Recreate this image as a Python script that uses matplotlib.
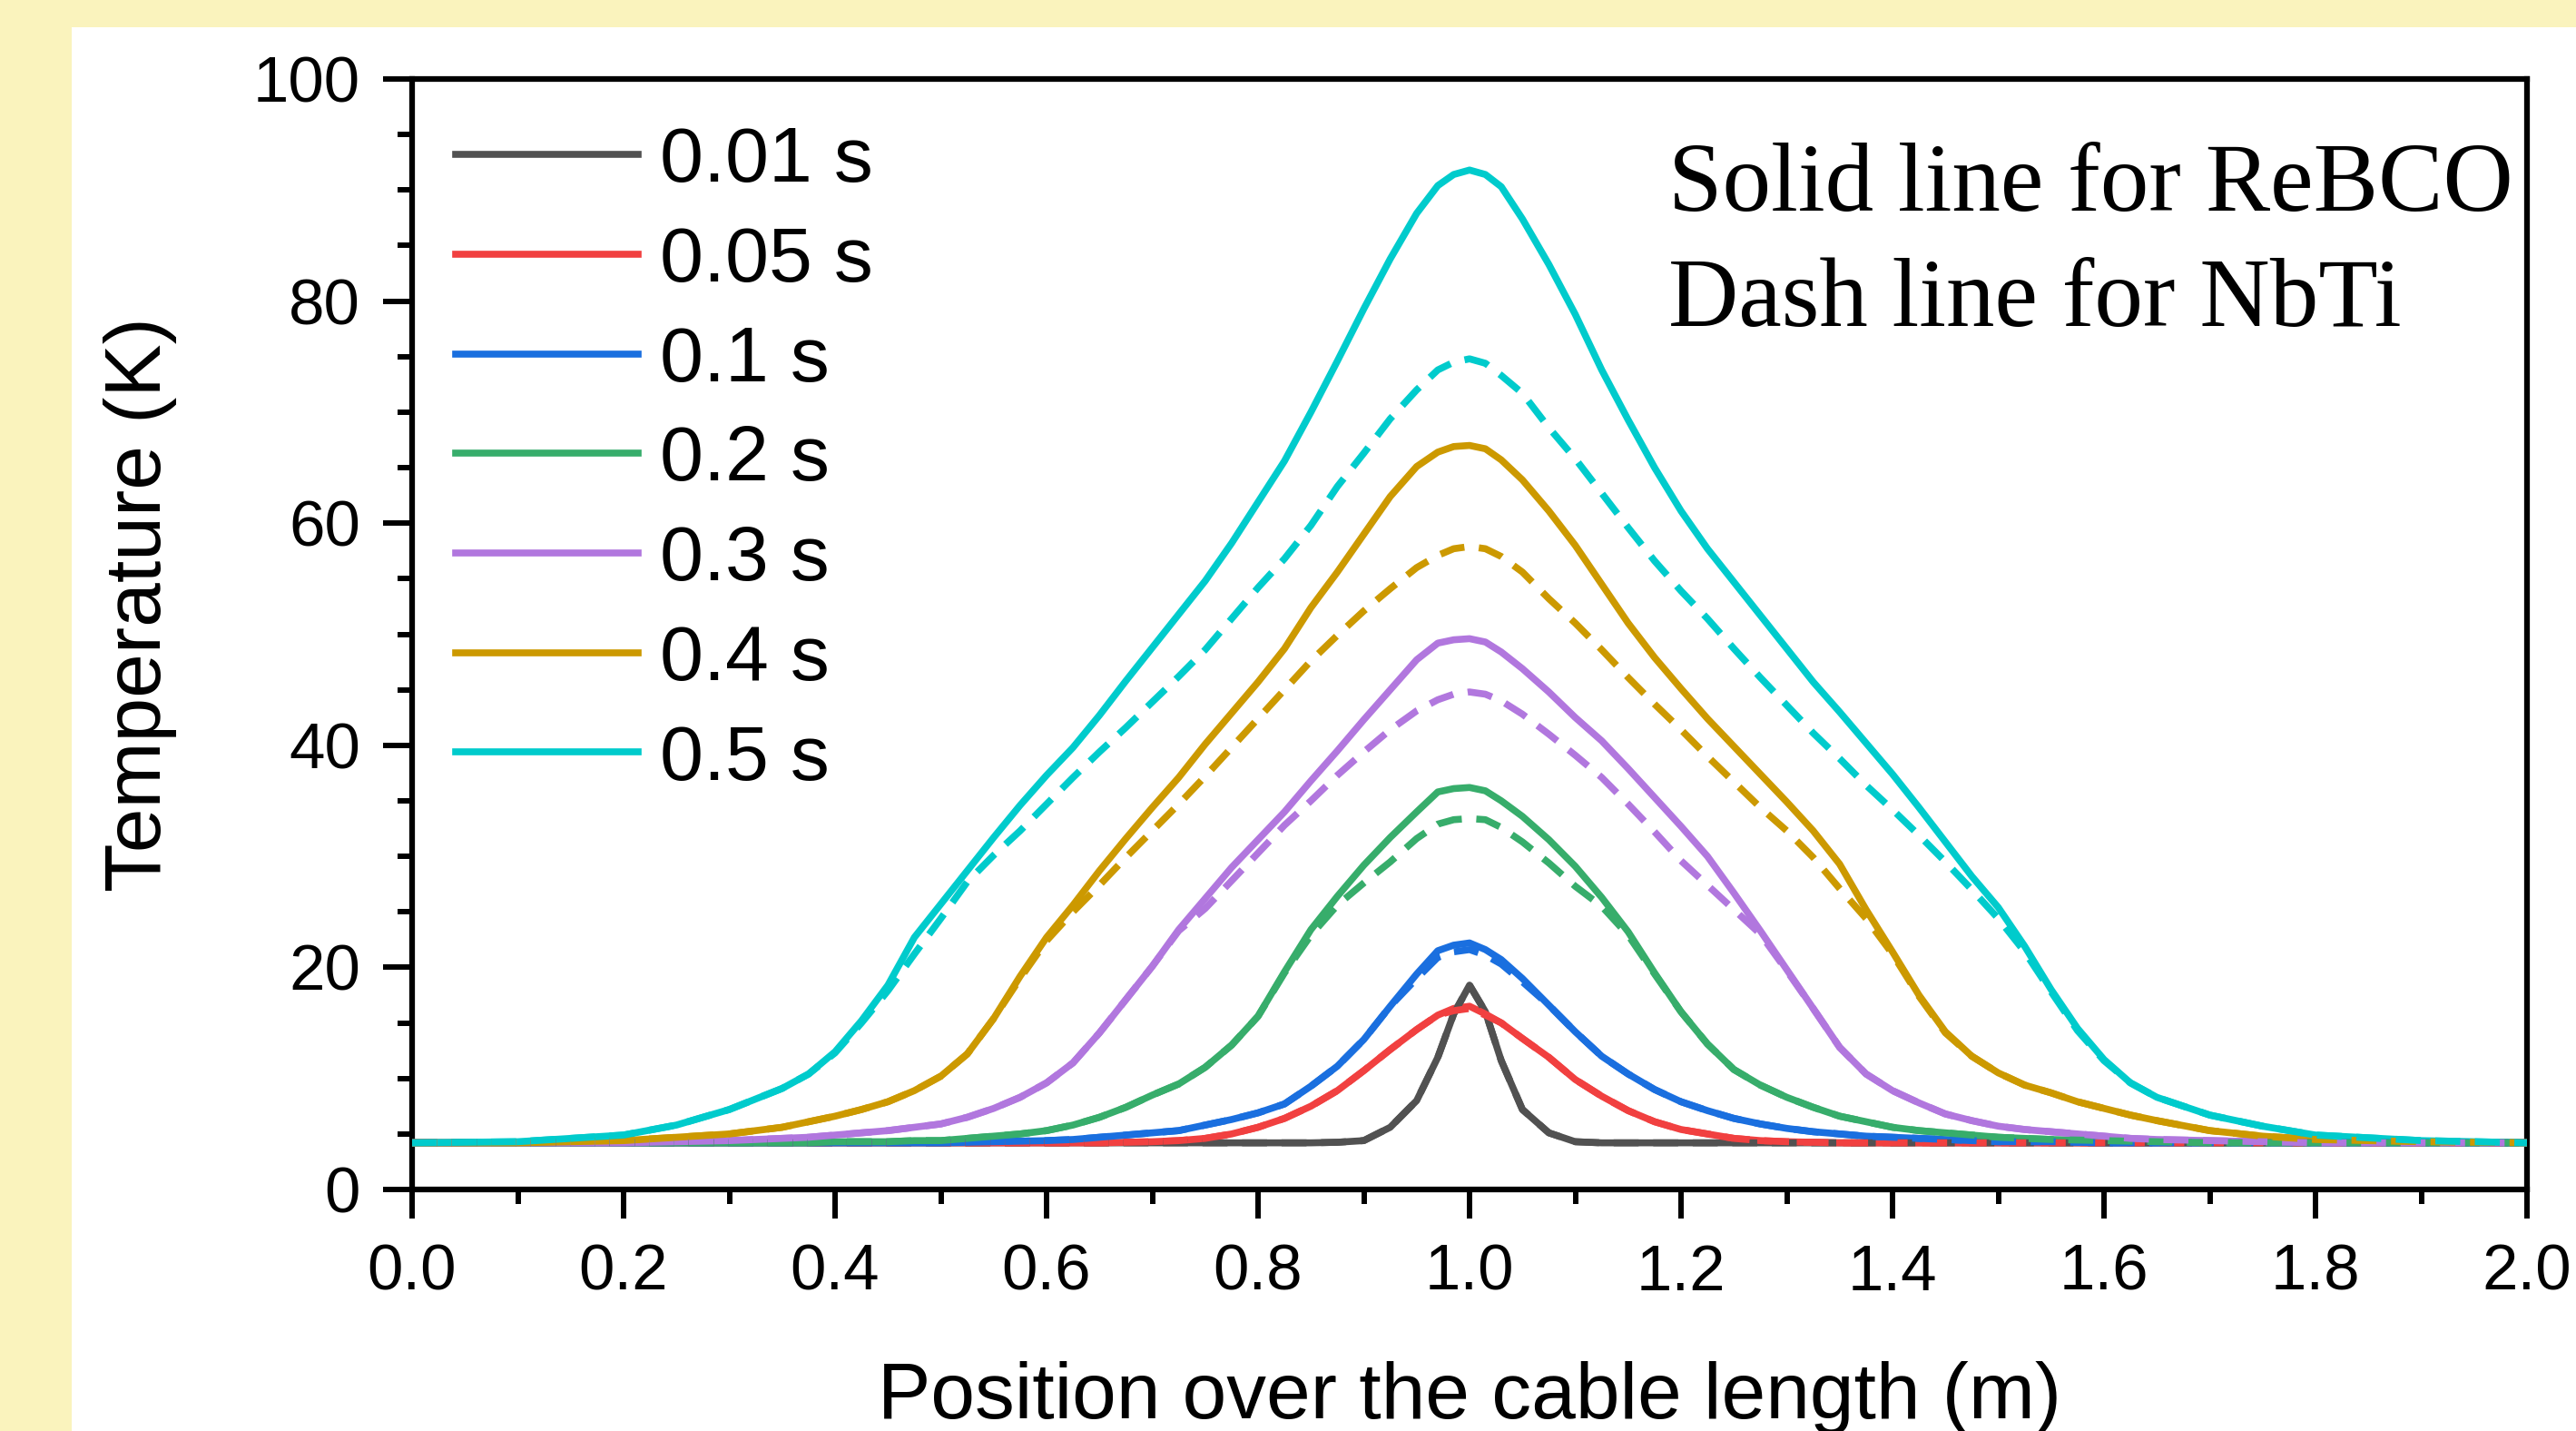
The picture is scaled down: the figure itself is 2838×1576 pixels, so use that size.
import matplotlib
matplotlib.use("Agg")
import matplotlib.pyplot as plt
from matplotlib.patches import Rectangle
from matplotlib.ticker import MultipleLocator, FormatStrFormatter

plt.rcParams['font.family'] = ['Liberation Sans', 'DejaVu Sans']

# Position along the cable (m)
position = [0.0, 0.1, 0.2, 0.25, 0.3, 0.35,
            0.375, 0.4, 0.425, 0.45, 0.475, 0.5, 0.525, 0.55, 0.575, 0.6,
            0.625, 0.65, 0.675, 0.7, 0.725, 0.75, 0.775, 0.8, 0.825, 0.85,
            0.875, 0.9, 0.925, 0.95,
            0.97, 0.985, 1.0, 1.015, 1.03,
            1.05, 1.075, 1.1, 1.125, 1.15, 1.175, 1.2, 1.225, 1.25, 1.275,
            1.3, 1.325, 1.35, 1.375, 1.4, 1.425, 1.45, 1.475, 1.5, 1.525,
            1.55, 1.575, 1.6, 1.625, 1.65,
            1.7, 1.75, 1.8, 1.9, 2.0]

times = ["0.01 s", "0.05 s", "0.1 s", "0.2 s", "0.3 s", "0.4 s", "0.5 s"]
colors = ["#515151", "#F14040", "#1A6FDF", "#37AD6B", "#B177DE", "#CC9900", "#00CBCC"]

# Temperature profiles (K), ReBCO cable
rebco_001 = [4.2, 4.2, 4.2, 4.2, 4.2, 4.2,
             4.2, 4.2, 4.2, 4.2, 4.2, 4.2, 4.2, 4.2, 4.2, 4.2,
             4.2, 4.2, 4.2, 4.2, 4.2, 4.2, 4.2, 4.2, 4.2, 4.2,
             4.25, 4.4, 5.6, 8.0,
             11.9, 15.8, 18.4, 16.0, 11.6,
             7.2, 5.1, 4.3, 4.2, 4.2, 4.2, 4.2, 4.2, 4.2, 4.2,
             4.2, 4.2, 4.2, 4.2, 4.2, 4.2, 4.2, 4.2, 4.2, 4.2,
             4.2, 4.2, 4.2, 4.2, 4.2,
             4.2, 4.2, 4.2, 4.2, 4.2]
rebco_005 = [4.2, 4.2, 4.2, 4.2, 4.2, 4.2,
             4.2, 4.2, 4.2, 4.2, 4.2, 4.2, 4.2, 4.2, 4.2, 4.2,
             4.2, 4.2, 4.25, 4.3, 4.4, 4.6, 5.0, 5.6, 6.4, 7.5,
             8.9, 10.7, 12.6, 14.4,
             15.7, 16.3, 16.5, 15.8, 15.0,
             13.6, 11.9, 9.9, 8.4, 7.1, 6.1, 5.4, 5.0, 4.6, 4.4,
             4.3, 4.25, 4.2, 4.2, 4.2, 4.2, 4.2, 4.2, 4.2, 4.2,
             4.2, 4.2, 4.2, 4.2, 4.2,
             4.2, 4.2, 4.2, 4.2, 4.2]
rebco_01 = [4.2, 4.2, 4.2, 4.2, 4.2, 4.2,
            4.2, 4.2, 4.2, 4.2, 4.2, 4.2, 4.25, 4.3, 4.35, 4.4,
            4.5, 4.7, 4.9, 5.1, 5.3, 5.8, 6.3, 6.9, 7.7, 9.3,
            11.1, 13.5, 16.5, 19.4,
            21.5, 22.0, 22.2, 21.6, 20.7,
            19.0, 16.6, 14.2, 12.0, 10.4, 9.0, 7.9, 7.1, 6.4, 5.9,
            5.5, 5.2, 5.0, 4.8, 4.7, 4.6, 4.5, 4.4, 4.3, 4.3,
            4.3, 4.25, 4.2, 4.2, 4.2,
            4.2, 4.2, 4.2, 4.2, 4.2]
rebco_02 = [4.2, 4.2, 4.2, 4.2, 4.2, 4.2,
            4.2, 4.3, 4.3, 4.3, 4.4, 4.4, 4.6, 4.8, 5.0, 5.3,
            5.8, 6.5, 7.4, 8.5, 9.5, 11.0, 13.0, 15.6, 19.6, 23.4,
            26.4, 29.2, 31.7, 34.0,
            35.8, 36.1, 36.2, 35.9, 35.0,
            33.6, 31.5, 29.1, 26.3, 23.2, 19.5, 16.0, 13.1, 10.8, 9.4,
            8.3, 7.4, 6.6, 6.1, 5.6, 5.3, 5.1, 4.9, 4.7, 4.6,
            4.5, 4.45, 4.4, 4.35, 4.3,
            4.2, 4.2, 4.2, 4.2, 4.2]
rebco_03 = [4.2, 4.2, 4.2, 4.3, 4.4, 4.6,
            4.7, 4.9, 5.1, 5.3, 5.6, 5.9, 6.5, 7.3, 8.3, 9.6,
            11.4, 14.1, 17.1, 20.1, 23.4, 26.2, 29.0, 31.5, 34.0, 36.8,
            39.5, 42.3, 45.0, 47.7,
            49.2, 49.5, 49.6, 49.3, 48.4,
            46.9, 44.8, 42.5, 40.4, 37.9, 35.3, 32.7, 30.0, 26.7, 23.3,
            19.8, 16.3, 12.8, 10.4, 8.9, 7.8, 6.8, 6.2, 5.7, 5.4,
            5.2, 5.0, 4.8, 4.6, 4.5,
            4.4, 4.3, 4.2, 4.2, 4.2]
rebco_04 = [4.2, 4.2, 4.4, 4.7, 5.0, 5.6,
            6.1, 6.6, 7.2, 7.9, 8.9, 10.2, 12.2, 15.4, 19.2, 22.7,
            25.6, 28.7, 31.6, 34.4, 37.1, 40.1, 42.9, 45.7, 48.7, 52.4,
            55.6, 59.0, 62.4, 65.1,
            66.4, 66.9, 67.0, 66.7, 65.7,
            63.9, 61.1, 58.0, 54.5, 51.0, 47.9, 45.1, 42.4, 39.9, 37.4,
            34.9, 32.3, 29.3, 25.2, 21.4, 17.5, 14.2, 12.0, 10.5, 9.4,
            8.7, 7.9, 7.3, 6.7, 6.2,
            5.3, 4.8, 4.5, 4.3, 4.2]
rebco_05 = [4.2, 4.3, 4.9, 5.8, 7.2, 9.1,
            10.4, 12.4, 15.2, 18.4, 22.7, 25.7, 28.7, 31.7, 34.6, 37.3,
            39.8, 42.7, 45.8, 48.8, 51.8, 54.8, 58.2, 61.9, 65.6, 70.0,
            74.6, 79.3, 83.8, 87.9,
            90.4, 91.4, 91.8, 91.4, 90.3,
            87.4, 83.3, 78.8, 73.8, 69.3, 65.0, 61.1, 57.7, 54.7, 51.7,
            48.7, 45.7, 43.0, 40.2, 37.4, 34.4, 31.3, 28.2, 25.4, 21.9,
            18.0, 14.5, 11.7, 9.6, 8.3,
            6.7, 5.7, 4.9, 4.4, 4.2]

# Temperature profiles (K), NbTi cable
nbti_001 = [4.2, 4.2, 4.2, 4.2, 4.2, 4.2,
            4.2, 4.2, 4.2, 4.2, 4.2, 4.2, 4.2, 4.2, 4.2, 4.2,
            4.2, 4.2, 4.2, 4.2, 4.2, 4.2, 4.2, 4.2, 4.2, 4.2,
            4.25, 4.4, 5.6, 8.0,
            11.9, 15.8, 18.4, 16.0, 11.6,
            7.2, 5.1, 4.3, 4.2, 4.2, 4.2, 4.2, 4.2, 4.2, 4.2,
            4.2, 4.2, 4.2, 4.2, 4.2, 4.2, 4.2, 4.2, 4.2, 4.2,
            4.2, 4.2, 4.2, 4.2, 4.2,
            4.2, 4.2, 4.2, 4.2, 4.2]
nbti_005 = [4.2, 4.2, 4.2, 4.2, 4.2, 4.2,
            4.2, 4.2, 4.2, 4.2, 4.2, 4.2, 4.2, 4.2, 4.2, 4.2,
            4.2, 4.2, 4.25, 4.3, 4.4, 4.6, 5.0, 5.6, 6.4, 7.5,
            8.9, 10.7, 12.6, 14.4,
            15.7, 16.1, 16.3, 15.7, 15.0,
            13.6, 11.9, 9.9, 8.4, 7.1, 6.1, 5.4, 5.0, 4.6, 4.4,
            4.3, 4.25, 4.2, 4.2, 4.2, 4.2, 4.2, 4.2, 4.2, 4.2,
            4.2, 4.2, 4.2, 4.2, 4.2,
            4.2, 4.2, 4.2, 4.2, 4.2]
nbti_01 = [4.2, 4.2, 4.2, 4.2, 4.2, 4.2,
           4.2, 4.2, 4.2, 4.2, 4.2, 4.2, 4.25, 4.3, 4.35, 4.4,
           4.5, 4.7, 4.9, 5.1, 5.3, 5.8, 6.3, 6.9, 7.7, 9.3,
           11.1, 13.5, 16.5, 19.0,
           20.9, 21.4, 21.6, 21.1, 20.3,
           18.7, 16.6, 14.2, 12.0, 10.4, 9.0, 7.9, 7.1, 6.4, 5.9,
           5.5, 5.2, 5.0, 4.8, 4.7, 4.6, 4.5, 4.4, 4.3, 4.3,
           4.3, 4.25, 4.2, 4.2, 4.2,
           4.2, 4.2, 4.2, 4.2, 4.2]
nbti_02 = [4.2, 4.2, 4.2, 4.2, 4.2, 4.2,
           4.2, 4.3, 4.3, 4.3, 4.4, 4.4, 4.6, 4.8, 5.0, 5.3,
           5.8, 6.5, 7.4, 8.5, 9.5, 11.0, 13.0, 15.6, 19.5, 22.9,
           25.6, 27.6, 29.5, 31.6,
           32.9, 33.3, 33.4, 33.3, 32.6,
           31.3, 29.4, 27.3, 25.5, 22.9, 19.4, 16.0, 13.1, 10.8, 9.4,
           8.3, 7.4, 6.6, 6.1, 5.6, 5.3, 5.1, 4.9, 4.7, 4.6,
           4.5, 4.45, 4.4, 4.35, 4.3,
           4.2, 4.2, 4.2, 4.2, 4.2]
nbti_03 = [4.2, 4.2, 4.2, 4.3, 4.4, 4.6,
           4.7, 4.9, 5.1, 5.3, 5.6, 5.9, 6.5, 7.3, 8.3, 9.6,
           11.4, 14.1, 17.1, 20.1, 23.3, 25.3, 27.8, 30.3, 32.8, 35.0,
           37.3, 39.4, 41.4, 43.1,
           44.1, 44.6, 44.8, 44.6, 44.0,
           42.8, 41.0, 39.1, 37.1, 34.7, 32.2, 29.6, 27.4, 25.2, 23.0,
           19.7, 16.3, 12.8, 10.4, 8.9, 7.8, 6.8, 6.2, 5.7, 5.4,
           5.2, 5.0, 4.8, 4.6, 4.5,
           4.4, 4.3, 4.2, 4.2, 4.2]
nbti_04 = [4.2, 4.2, 4.4, 4.7, 5.0, 5.6,
           6.1, 6.6, 7.2, 7.9, 8.9, 10.2, 12.2, 15.4, 19.0, 22.4,
           25.0, 27.4, 29.9, 32.3, 34.7, 37.2, 39.8, 42.4, 45.0, 47.6,
           49.9, 52.1, 54.1, 56.0,
           57.1, 57.7, 57.9, 57.7, 57.0,
           55.6, 53.2, 51.0, 48.6, 46.1, 43.7, 41.4, 39.0, 36.7, 34.4,
           32.3, 29.9, 27.1, 24.4, 21.2, 17.4, 14.1, 12.0, 10.5, 9.4,
           8.7, 7.9, 7.3, 6.7, 6.2,
           5.3, 4.8, 4.5, 4.3, 4.2]
nbti_05 = [4.2, 4.3, 4.9, 5.8, 7.2, 9.1,
           10.4, 12.3, 15.0, 17.9, 21.2, 24.4, 27.7, 30.1, 32.3, 34.7,
           37.1, 39.4, 41.6, 43.9, 46.2, 48.6, 51.4, 54.2, 56.8, 59.8,
           63.3, 66.3, 69.4, 72.0,
           73.8, 74.5, 74.8, 74.4, 73.3,
           71.7, 68.6, 65.8, 62.7, 59.6, 56.6, 53.9, 51.4, 48.7, 46.1,
           43.6, 41.1, 38.8, 36.4, 34.2, 31.9, 29.5, 27.0, 24.4, 21.4,
           17.8, 14.3, 11.6, 9.6, 8.3,
           6.7, 5.7, 4.9, 4.4, 4.2]

rebco_series = [rebco_001, rebco_005, rebco_01, rebco_02, rebco_03, rebco_04, rebco_05]
nbti_series = [nbti_001, nbti_005, nbti_01, nbti_02, nbti_03, nbti_04, nbti_05]

W, H = 2838, 1576
fig = plt.figure(figsize=(W / 100, H / 100), dpi=100, facecolor="#FAF3BD")
fig.add_artist(Rectangle((79 / W, 0), 1 - 79 / W, 1 - 30 / H,
                         transform=fig.transFigure, facecolor="white",
                         edgecolor="none", zorder=0))

ax = fig.add_axes([454 / W, 266 / H, 2330 / W, 1223 / H])
ax.set_facecolor("white")

lw = 5.5
handles = []
for temps, c, lab in zip(rebco_series, colors, times):
    ln, = ax.plot(position, temps, color=c, lw=lw, solid_joinstyle="round",
                  label=lab, zorder=3)
    handles.append(ln)
for temps, c in zip(nbti_series, colors):
    ax.plot(position, temps, color=c, lw=lw, linestyle=(0, (3.6, 2.1)),
            dash_joinstyle="round", zorder=4)

ax.set_xlim(0, 2.0)
ax.set_ylim(0, 100)
ax.xaxis.set_major_locator(MultipleLocator(0.2))
ax.xaxis.set_minor_locator(MultipleLocator(0.1))
ax.yaxis.set_major_locator(MultipleLocator(20))
ax.yaxis.set_minor_locator(MultipleLocator(5))
ax.xaxis.set_major_formatter(FormatStrFormatter("%.1f"))

for sp in ax.spines.values():
    sp.set_linewidth(4.5)
ax.tick_params(which="both", direction="out", top=False, right=False,
               width=4.3, labelsize=51)
ax.tick_params(which="major", length=23)
ax.tick_params(which="minor", length=11.5)
ax.tick_params(axis="x", which="major", pad=20)
ax.tick_params(axis="y", which="major", pad=18)

ax.set_xlabel("Position over the cable length (m)", fontsize=63)
ax.xaxis.label.set_verticalalignment("baseline")
ax.xaxis.set_label_coords(0.5, -0.206)
ax.set_ylabel("Temperature (K)", fontsize=63)
ax.yaxis.label.set_verticalalignment("baseline")
ax.yaxis.set_label_coords(-0.119, 0.527)

ax.legend(handles=handles, loc="upper left", bbox_to_anchor=(0.0206, 0.958),
          frameon=False, fontsize=62, borderpad=0, borderaxespad=0,
          handlelength=2.33, handletextpad=0.28, labelspacing=0.345)

serif = ["Liberation Serif", "DejaVu Serif"]
ax.text(0.594, 0.8816, "Solid line for ReBCO", transform=ax.transAxes,
        fontsize=77, family=serif, va="baseline", ha="left")
ax.text(0.594, 0.778, "Dash line for NbTi", transform=ax.transAxes,
        fontsize=77, family=serif, va="baseline", ha="left")

fig.savefig("out.png", dpi=100, facecolor=fig.get_facecolor())
